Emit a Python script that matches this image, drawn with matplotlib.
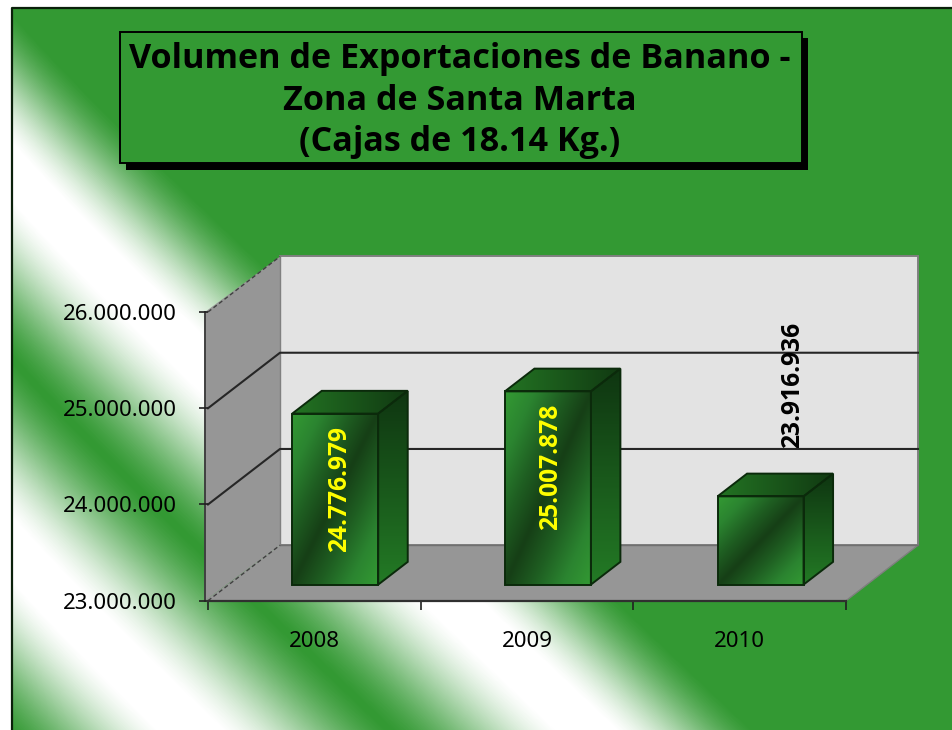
import numpy as np
import matplotlib
matplotlib.use("Agg")
import matplotlib.pyplot as plt
from matplotlib.colors import LinearSegmentedColormap
from matplotlib.patches import Polygon, Rectangle

plt.rcParams["font.family"] = ["Noto Sans", "DejaVu Sans"]

# datos
years = ["2008", "2009", "2010"]
volumes = [24776979, 25007878, 23916936]
y_ticks = [23000000, 24000000, 25000000, 26000000]
title_lines = ["Volumen de Exportaciones de Banano -", "Zona de Santa Marta", "(Cajas de 18.14 Kg.)"]

W, H = 952, 730
GREEN = "#339933"
X0, X1, Y_FLOOR, Y_TOP = 208, 846, 600.7, 312.0
DEPTH_X, DEPTH_Y = 72, 55.5
PX_X = 3 / (X1 - X0)
PX_Y = 3000000 / (Y_FLOOR - Y_TOP)
DX = DEPTH_X * PX_X
DY = DEPTH_Y * PX_Y


def fmt(v):
    return f"{v:,}".replace(",", ".")


def shaded_face(ax, corners, values, colors):
    # cara con degradado recortada al poligono
    xs = [c[0] for c in corners]
    ys = [c[1] for c in corners]
    cmap = LinearSegmentedColormap.from_list("face", colors)
    poly = Polygon(corners, closed=True, fc="none", ec="#0b2a0b", lw=1.4, zorder=4)
    ax.add_patch(poly)
    im = ax.imshow(values, cmap=cmap, vmin=0, vmax=1, aspect="auto", interpolation="bilinear",
                   extent=(min(xs), max(xs), min(ys), max(ys)), zorder=3)
    im.set_clip_path(poly)


fig = plt.figure(figsize=(W / 100, H / 100), dpi=100, facecolor="white")

# fondo con bandas diagonales
bg = fig.add_axes([0, 0, 1, 1], zorder=0)
bg.set_xlim(0, W)
bg.set_ylim(H, 0)
bg.axis("off")
px, py = np.meshgrid(np.arange(13, W), np.arange(9, H))
v = py - 0.95 * px + 15 * np.exp(-px / 70)
first = np.where(v < 170, (170 - v) / 155, (v - 170) / 188)
second = np.abs(v - 550) / 188
band = np.clip(1 - np.minimum(first, second), 0, 1)
band = np.clip(band * 1.2, 0, 1)
band = 0.5 * band + 0.5 * band * band * (3 - 2 * band)
bg_cmap = LinearSegmentedColormap.from_list("bg", [GREEN, "#ffffff"])
bg.imshow(band, cmap=bg_cmap, vmin=0, vmax=1, aspect="auto", extent=(13, W, H, 9), interpolation="bilinear")
bg.plot([12, 12, W], [H, 8, 8], color="#0a200a", lw=1.6, solid_capstyle="butt")

# ejes sobre el plano frontal
ax = fig.add_axes([X0 / W, 1 - Y_FLOOR / H, (X1 - X0) / W, (Y_FLOOR - Y_TOP) / H], zorder=1)
ax.patch.set_visible(False)
for side in ["top", "right", "left"]:
    ax.spines[side].set_visible(False)
ax.spines["bottom"].set_color("#303030")
ax.spines["bottom"].set_linewidth(1.6)
ax.spines["bottom"].set_zorder(2.5)

y_min, y_max = y_ticks[0], y_ticks[-1]
x_left = -3 * PX_X

# paredes y piso
ax.add_patch(Polygon([(DX, y_min + DY), (3 + DX, y_min + DY), (3 + DX, y_max + DY), (DX, y_max + DY)],
                     fc="#e3e3e3", ec="#808080", lw=1.4, clip_on=False, zorder=1))
ax.add_patch(Polygon([(x_left, y_min), (DX, y_min + DY), (DX, y_max + DY), (x_left, y_max)],
                     fc="#969696", ec="none", clip_on=False, zorder=1.2))
ax.plot([x_left, x_left], [y_min, y_max], color="#404040", lw=1.4, clip_on=False, zorder=1.3)
ax.plot([DX, DX], [y_min + DY, y_max + DY], color="#808080", lw=1, clip_on=False, zorder=1.3)
ax.add_patch(Polygon([(x_left, y_min), (3, y_min), (3 + DX, y_min + DY), (DX, y_min + DY)],
                     fc="#969696", ec="none", clip_on=False, zorder=1.2))
ax.plot([3, 3 + DX], [y_min, y_min + DY], color="#7f7f7f", lw=1, clip_on=False, zorder=1.3)
ax.plot([DX, 3 + DX], [y_min + DY, y_min + DY], color="#707070", lw=1, clip_on=False, zorder=1.3)

# lineas de division
for tick in y_ticks:
    if tick in (y_min, y_max):
        ax.plot([0, DX], [tick, tick + DY], color="#404040", lw=1, ls=(0, (3, 2)), clip_on=False, zorder=1.4)
    else:
        ax.plot([0, DX, 3 + DX], [tick, tick + DY, tick + DY], color="#262626", lw=1.5, clip_on=False, zorder=1.4)

# barras en 3D
BAR_W = 86 * PX_X
BAR_SHIFT = 0.29
BAR_DEPTH = 0.41
n = 60
s, t = np.meshgrid(np.linspace(0, 1, n), np.linspace(0, 1, n))
front_vals = np.abs(s + t - 1)
top_vals = 1 - s
side_vals = t
front_cols = ["#163f16", "#1f5f22", "#2b8430", "#339933"]
top_cols = ["#113a12", "#237323"]
side_cols = ["#0f3611", "#237a25"]
for i, val in enumerate(volumes):
    xc = i + 0.5 + BAR_SHIFT * DX
    y_base = y_min + BAR_SHIFT * DY
    y_val = val + BAR_SHIFT * DY
    xl, xr = xc - BAR_W / 2, xc + BAR_W / 2
    bx, by = BAR_DEPTH * DX, BAR_DEPTH * DY
    shaded_face(ax, [(xl, y_val), (xr, y_val), (xr + bx, y_val + by), (xl + bx, y_val + by)], top_vals, top_cols)
    shaded_face(ax, [(xr, y_base), (xr + bx, y_base + by), (xr + bx, y_val + by), (xr, y_val)], side_vals, side_cols)
    shaded_face(ax, [(xl, y_base), (xr, y_base), (xr, y_val), (xl, y_val)], front_vals, front_cols)

# etiquetas de datos (desplazamiento en puntos desde el centro de la cara frontal)
label_offsets = [(3, -43), (2, -43), (23, 92)]
label_colors = ["#ffff00", "#ffff00", "#000000"]
for i, val in enumerate(volumes):
    xc = i + 0.5 + BAR_SHIFT * DX
    ax.annotate(fmt(val), (xc, val), xytext=label_offsets[i], textcoords="offset points",
                rotation=90, ha="center", va="center", fontsize=17.7, fontweight="bold",
                family="Open Sans", color=label_colors[i], zorder=6, annotation_clip=False)

ax.set_xlim(0, 3)
ax.set_ylim(y_min, y_max)
ax.set_yticks(y_ticks)
ax.set_yticklabels([fmt(tk) for tk in y_ticks], fontsize=16, color="black")
ax.set_xticks([0, 1, 2, 3])
ax.set_xticklabels([])
ax.set_xticks([0.5, 1.5, 2.5], minor=True)
ax.set_xticklabels(years, minor=True, fontsize=16, color="black")
ax.tick_params(axis="y", length=6.5, width=1.2, color="#202020", pad=16)
ax.tick_params(axis="x", which="major", length=6.5, width=1.2, color="#202020")
ax.tick_params(axis="x", which="minor", length=0, pad=22)

# cuadro del titulo
top = fig.add_axes([0, 0, 1, 1], zorder=2)
top.set_xlim(0, W)
top.set_ylim(H, 0)
top.axis("off")
top.add_patch(Rectangle((125.5, 38), 682.5, 131.5, fc="black", ec="none"))
top.add_patch(Rectangle((119.5, 32), 682, 131, fc=GREEN, ec="black", lw=1.4))
for line, y_line in zip(title_lines, [68.5, 109.5, 151]):
    top.text(459.5, y_line, line, ha="center", va="baseline", fontsize=24.6, fontweight="bold",
             family="Open Sans", color="black")

fig.savefig("out.png", dpi=100)
